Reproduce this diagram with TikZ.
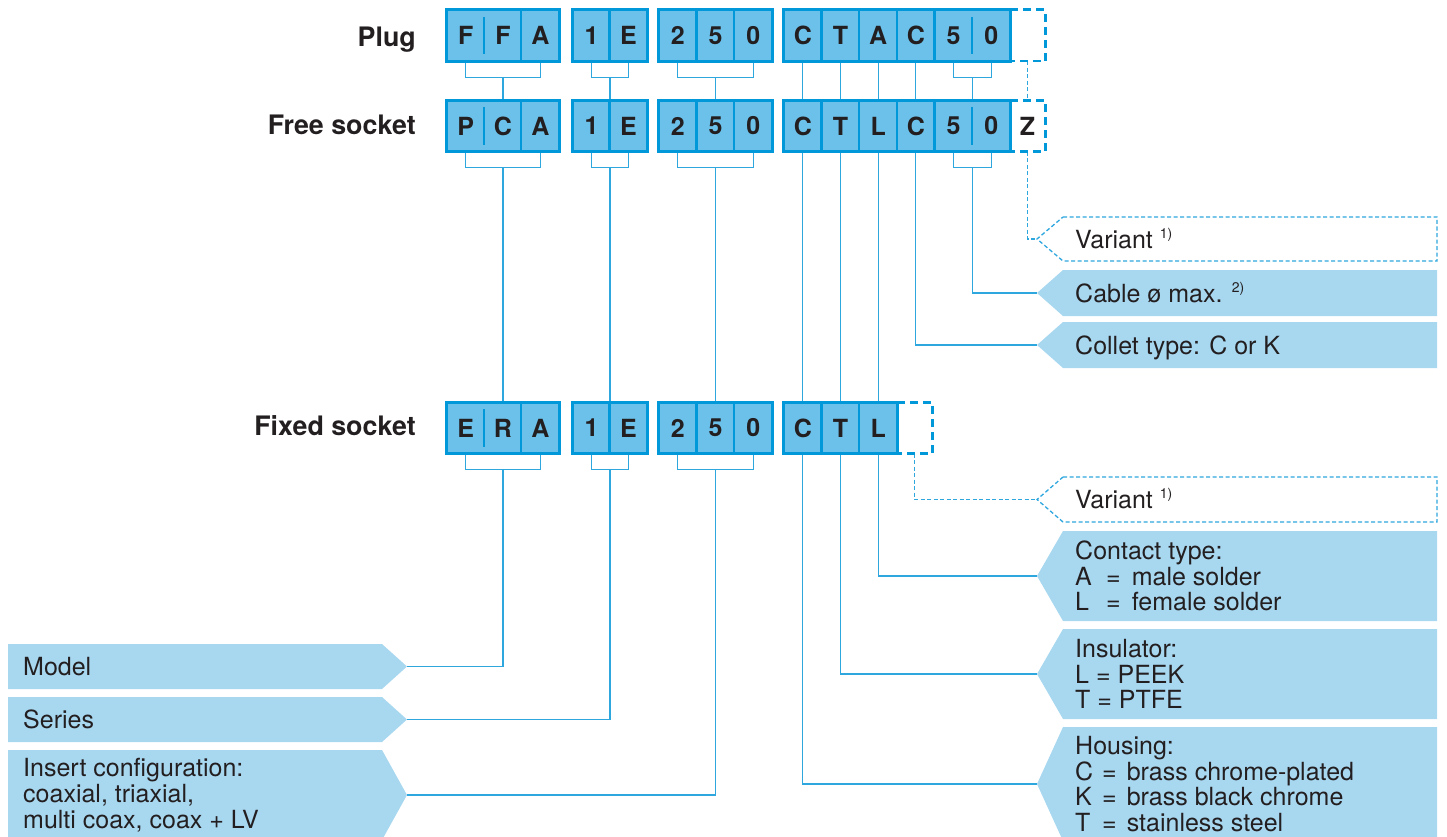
\documentclass[tikz,border=0pt]{standalone}
\usepackage{fontspec}
\setmainfont{TeX Gyre Heros}
\usetikzlibrary{calc,backgrounds}
\definecolor{cellfill}{HTML}{6CC1EA}
\definecolor{cellborder}{HTML}{0098D8}
\definecolor{labfill}{HTML}{A8D7F0}
\definecolor{linecol}{HTML}{2EA7DF}
\definecolor{txt}{HTML}{231F20}
\newcommand{\supx}[1]{\smash{\raisebox{10pt}{\fontsize{14}{14}\selectfont #1}}}
\newcommand{\rlab}[4]{%
  \pgfmathsetmacro\labmid{(#1+#2)/2}
  \coordinate (#3) at (1037,\labmid);
  \fill[labfill] (1063,#1) -- (1437,#1) -- (1437,#2) -- (1063,#2) -- (#3) -- cycle;
  \node[labtext] (#3-t) at (1075,\labmid) {#4};}
\newcommand{\rlabone}[4]{%
  \pgfmathsetmacro\labmid{(#1+#2)/2}
  \coordinate (#3) at (1037,\labmid);
  \fill[labfill] (1063,#1) -- (1437,#1) -- (1437,#2) -- (1063,#2) -- (#3) -- cycle;
  \node[labtext,text height=18pt,text depth=0pt] (#3-t) at (1075,\labmid) {#4};}
\newcommand{\rvar}[3]{%
  \pgfmathsetmacro\labmid{(#1+#2)/2}
  \coordinate (#3) at (1037,\labmid);
  \draw[dconn] (1063,#1) -- (1437,#1) -- (1437,#2) -- (1063,#2) -- (#3) -- cycle;
  \node[labtext,text height=18pt,text depth=0pt] (#3-t) at (1075,\labmid) {Variant \supx{1)}};}
\newcommand{\llab}[4]{%
  \pgfmathsetmacro\labmid{(#1+#2)/2}
  \coordinate (#3) at (407,\labmid);
  \fill[labfill] (8,#1) -- (382,#1) -- (#3) -- (382,#2) -- (8,#2) -- cycle;
  \node[labtext] (#3-t) at (23,\labmid) {#4};}
\begin{document}
\begin{tikzpicture}[x=1pt,y=-1pt,
  cell/.style={rectangle, fill=cellfill, minimum width=37.7pt, minimum height=51pt, inner sep=0pt, text=txt, font=\bfseries\fontsize{25}{25}\selectfont},
  ghost/.style={rectangle, minimum width=35pt, minimum height=51pt, inner sep=0pt, text=txt, font=\bfseries\fontsize{25}{25}\selectfont},
  grpline/.style={draw=cellborder, line width=3pt},
  divline/.style={cellborder, line width=2.2pt},
  conn/.style={linecol, line width=1.3pt},
  dconn/.style={linecol, line width=1.3pt, dash pattern=on 4pt off 2.5pt},
  dbox/.style={cellborder, line width=2.6pt, dash pattern=on 8pt off 5pt},
  labtext/.style={anchor=west, inner sep=0pt, align=left, text=txt, font=\fontsize{25}{25.7}\selectfont},
  rowlab/.style={anchor=base east, inner sep=0pt, text=txt, font=\bfseries\fontsize{26.8}{26.8}\selectfont}]
\useasboundingbox (0,0) rectangle (1447,837);
\clip (0,0) rectangle (1447,837);

% row labels
\node[rowlab] (lplug) at (416,47) {Plug};
\node[rowlab] (lfree) at (416,135) {Free socket};
\node[rowlab] (lfixed) at (416,435) {Fixed socket};

% rows of cells
\foreach \r/\y/\a/\b/\c/\d/\e/\f/\g/\h/\i/\j/\k/\l/\m/\n in
  {p/35.5/F/F/A/1/E/2/5/0/C/T/A/C/5/0, f/126/P/C/A/1/E/2/5/0/C/T/L/C/5/0}{
  \node[cell] (\r1) at (465.7,\y) {\a};
  \node[cell] (\r2) at (503,\y) {\b};
  \node[cell] (\r3) at (540.3,\y) {\c};
  \node[cell] (\r4) at (591.5,\y) {\d};
  \node[cell] (\r5) at (628.5,\y) {\e};
  \node[cell] (\r6) at (677.8,\y) {\f};
  \node[cell] (\r7) at (715.5,\y) {\g};
  \node[cell] (\r8) at (753.2,\y) {\h};
  \node[cell] (\r9) at (802.8,\y) {\i};
  \node[cell] (\r10) at (840.5,\y) {\j};
  \node[cell] (\r11) at (878.2,\y) {\k};
  \node[cell] (\r12) at (915.8,\y) {\l};
  \node[cell] (\r13) at (953.5,\y) {\m};
  \node[cell] (\r14) at (991.2,\y) {\n};
}
\node[ghost] (pd) at (1027.5,35.5) {};
\node[ghost] (fd) at (1027.5,126) {Z};

\node[cell] (x1) at (465.7,428) {E};
\node[cell] (x2) at (503,428) {R};
\node[cell] (x3) at (540.3,428) {A};
\node[cell] (x4) at (591.5,428) {1};
\node[cell] (x5) at (628.5,428) {E};
\node[cell] (x6) at (677.8,428) {2};
\node[cell] (x7) at (715.5,428) {5};
\node[cell] (x8) at (753.2,428) {0};
\node[cell] (x9) at (802.8,428) {C};
\node[cell] (x10) at (840.5,428) {T};
\node[cell] (x11) at (878.2,428) {L};
\node[ghost] (xd) at (914.5,428) {};

% dividers and group borders
\foreach \r in {p,f}{
  \draw[divline] ([yshift=-7pt]\r2.north west) -- ([yshift=7pt]\r2.south west);
  \draw[divline] (\r3.north west) -- (\r3.south west);
  \draw[divline] (\r5.north west) -- (\r5.south west);
  \draw[divline] (\r7.north west) -- (\r7.south west);
  \draw[divline] (\r8.north west) -- (\r8.south west);
  \foreach \i in {10,...,13} \draw[divline] (\r\i.north west) -- (\r\i.south west);
  \draw[divline] ([yshift=-7pt]\r14.north west) -- ([yshift=7pt]\r14.south west);
  \draw[grpline] (\r1.north west) rectangle (\r3.south east);
  \draw[grpline] (\r4.north west) rectangle (\r5.south east);
  \draw[grpline] (\r6.north west) rectangle (\r8.south east);
  \draw[grpline] (\r9.north west) rectangle (\r14.south east);
  \draw[dbox] (\r14.north east) -- (\r d.north east) -- (\r d.south east) -- (\r14.south east);
}
\draw[divline] ([yshift=-7pt]x2.north west) -- ([yshift=7pt]x2.south west);
\draw[divline] (x3.north west) -- (x3.south west);
\draw[divline] (x5.north west) -- (x5.south west);
\draw[divline] (x7.north west) -- (x7.south west);
\draw[divline] (x8.north west) -- (x8.south west);
\draw[divline] (x10.north west) -- (x10.south west);
\draw[divline] (x11.north west) -- (x11.south west);
\draw[grpline] (x1.north west) rectangle (x3.south east);
\draw[grpline] (x4.north west) rectangle (x5.south east);
\draw[grpline] (x6.north west) rectangle (x8.south east);
\draw[grpline] (x9.north west) rectangle (x11.south east);
\draw[dbox] (x11.north east) -- (xd.north east) -- (xd.south east) -- (x11.south east);

% label boxes right
\rvar{217}{261}{var1}
\rlabone{270}{316}{cable}{Cable ø max. \supx{2)}}
\rlabone{322}{368}{collet}{Collet type: C or K}
\rvar{477}{522}{var2}
\rlab{531}{621}{contact}{Contact type:\\\makebox[31pt][l]{A}=\hspace{11pt}male solder\\\makebox[31pt][l]{L}=\hspace{11pt}female solder}
\rlab{629}{719}{insul}{Insulator:\\L = PEEK\\T = PTFE}
\rlab{727}{841}{housing}{Housing:\\\makebox[27pt][l]{C}=\hspace{10pt}brass chrome-plated\\\makebox[27pt][l]{K}=\hspace{10pt}brass black chrome\\\makebox[27pt][l]{T}=\hspace{10pt}stainless steel}
% label boxes left
\llab{644}{689}{model}{Model}
\llab{697}{742}{series}{Series}
\llab{750}{840}{insert}{Insert configuration:\\coaxial, triaxial,\\multi coax, coax + LV}

\begin{pgfonlayer}{background}
% plug -> free socket
\draw[conn] (p1.south) -- ++(0,16) -| (p3.south);
\draw[conn] ($(p2.south)+(0,16)$) -- (f2.north);
\draw[conn] (p4.south) -- ++(0,16) -| (p5.south);
\draw[conn] ($(p4.south)!.5!(p5.south)+(0,16)$) -- ($(f4.north)!.5!(f5.north)$);
\draw[conn] (p6.south) -- ++(0,16) -| (p8.south);
\draw[conn] ($(p7.south)+(0,16)$) -- (f7.north);
\foreach \i in {9,...,12} \draw[conn] (p\i.south) -- (f\i.north);
\draw[conn] (p13.south) -- ++(0,16) -| (p14.south);
\draw[conn] ($(p13.south)!.5!(p14.south)+(0,16)$) -- ($(f13.north)!.5!(f14.north)$);
\draw[dconn] (pd.south) -- (fd.north);
% free socket -> fixed socket / labels
\draw[conn] (f1.south) -- ++(0,16) -| (f3.south);
\draw[conn] ($(f2.south)+(0,16)$) -- (x2.north);
\draw[conn] (f4.south) -- ++(0,16) -| (f5.south);
\draw[conn] ($(f4.south)!.5!(f5.south)+(0,16)$) -- ($(x4.north)!.5!(x5.north)$);
\draw[conn] (f6.south) -- ++(0,16) -| (f8.south);
\draw[conn] ($(f7.south)+(0,16)$) -- (x7.north);
\foreach \i in {9,10,11} \draw[conn] (f\i.south) -- (x\i.north);
\draw[conn] (f12.south) |- (collet);
\draw[conn] (f13.south) -- ++(0,16) -| (f14.south);
\draw[conn] ($(f13.south)!.5!(f14.south)+(0,16)$) |- (cable);
\draw[dconn] (fd.south) |- (var1);
% fixed socket -> labels
\draw[conn] (x1.south) -- ++(0,16) -| (x3.south);
\draw[conn] ($(x2.south)+(0,16)$) |- (model);
\draw[conn] (x4.south) -- ++(0,16) -| (x5.south);
\draw[conn] ($(x4.south)!.5!(x5.south)+(0,16)$) |- (series);
\draw[conn] (x6.south) -- ++(0,16) -| (x8.south);
\draw[conn] ($(x7.south)+(0,16)$) |- (insert);
\draw[conn] (x9.south) |- (housing);
\draw[conn] (x10.south) |- (insul);
\draw[conn] (x11.south) |- (contact);
\draw[dconn] (xd.south) |- (var2);
\end{pgfonlayer}
\end{tikzpicture}
\end{document}
